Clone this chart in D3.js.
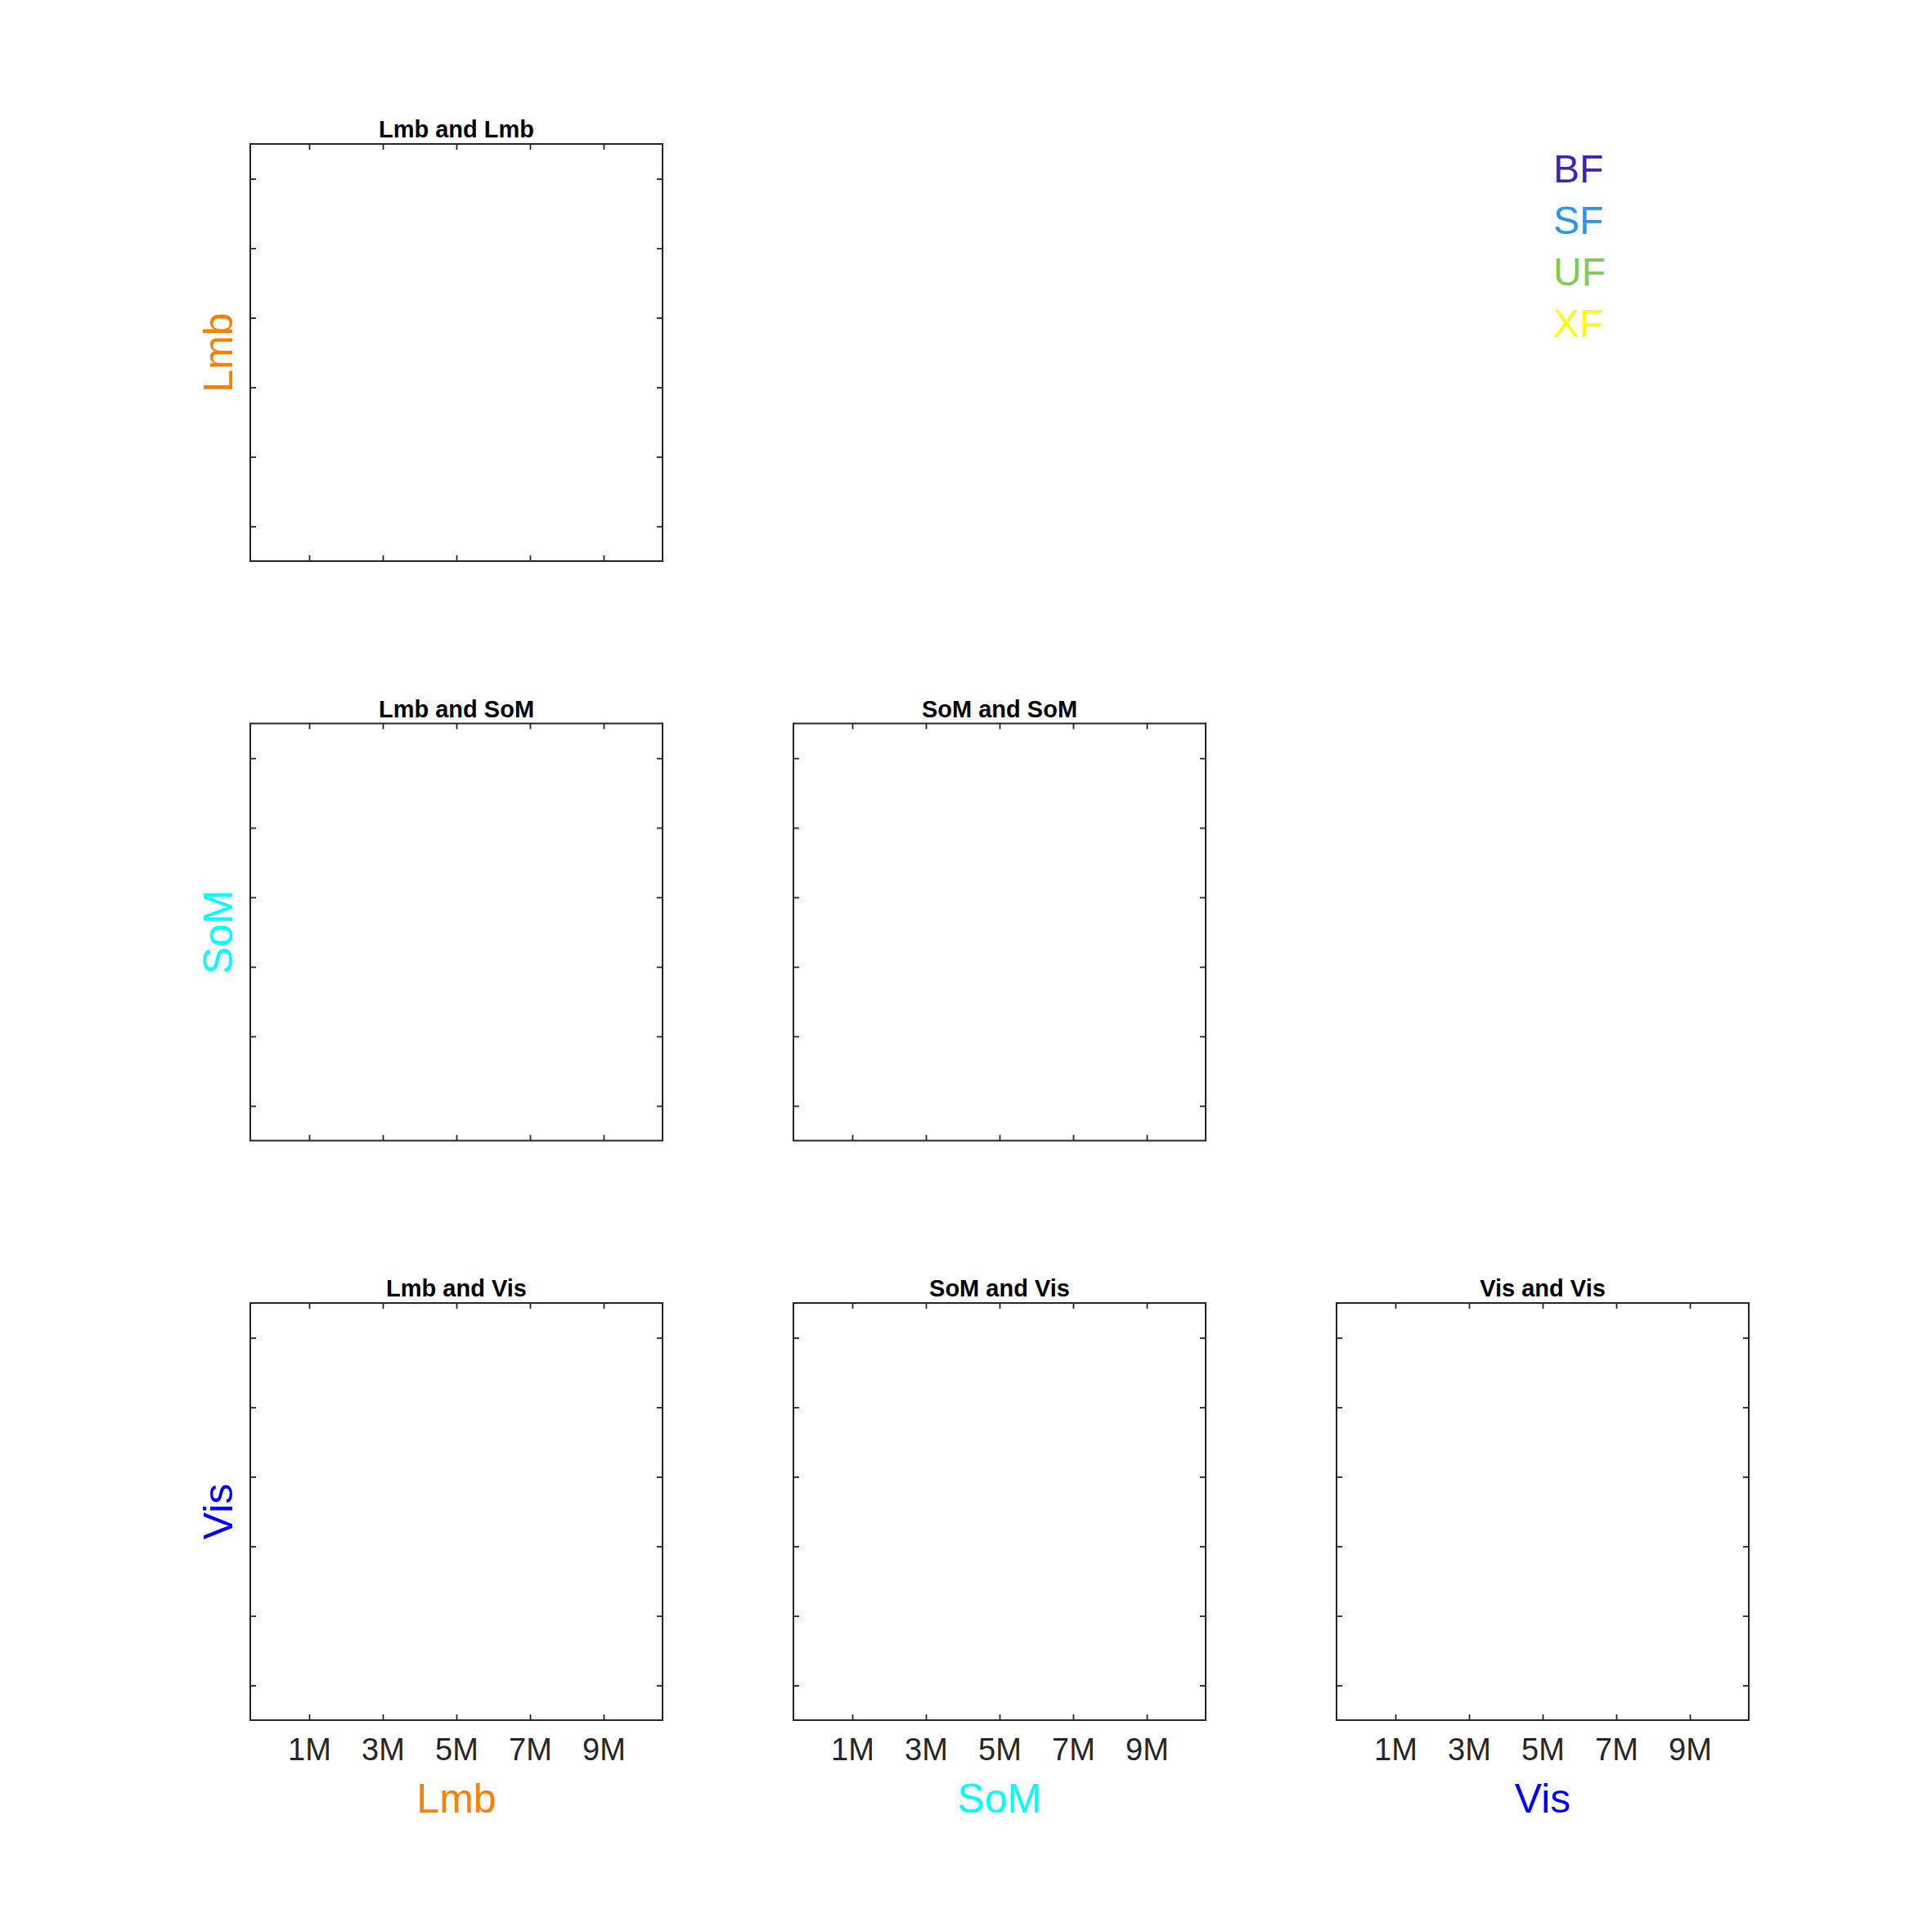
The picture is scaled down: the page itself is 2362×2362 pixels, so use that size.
<!DOCTYPE html>
<html>
<head>
<meta charset="utf-8">
<script src="https://cdn.jsdelivr.net/npm/d3@7"></script>
<style>
  html, body { margin: 0; padding: 0; background: #ffffff; }
  svg { display: block; }
  text { font-family: "Liberation Sans", Arial, Helvetica, sans-serif; }
</style>
</head>
<body>
<script>
// ---- data ----
const variables = ["Lmb", "SoM", "Vis"];
const variableColors = ["#FF8000", "#00FFFF", "#0000FF"];
const groups = ["BF", "SF", "UF", "XF"];
const groupColors = ["#3E26A8", "#2796EB", "#80CA56", "#F9FB15"];
const xDomain = [-0.6e6, 10.6e6];
const yDomain = [0, 12e6];
const xTickValues = [1e6, 3e6, 5e6, 7e6, 9e6];
const yTickValues = [1e6, 3e6, 5e6, 7e6, 9e6, 11e6];
const points = []; // every panel is empty in the reference

// ---- layout ----
const W = 2362, H = 2362;
const panelW = 504, panelH = 510;
const left0 = 306, top0 = 176, colStep = 664, rowStep = 708.5;
const axisColor = "#262626";
const tickLen = 7;

const svg = d3.select("body").append("svg")
  .attr("width", W).attr("height", H)
  .attr("viewBox", `0 0 ${W} ${H}`);

const x = d3.scaleLinear().domain(xDomain).range([0, panelW]);
const y = d3.scaleLinear().domain(yDomain).range([panelH, 0]);
const fmt = d => d3.format("d")(d / 1e6) + "M";

for (let r = 0; r < variables.length; r++) {
  for (let c = 0; c <= r; c++) {
    const g = svg.append("g")
      .attr("transform", `translate(${left0 + c * colStep},${top0 + r * rowStep})`);

    // points (none)
    g.selectAll("circle").data(points).join("circle")
      .attr("cx", d => x(d[0])).attr("cy", d => y(d[1])).attr("r", 3);

    const isBottom = r === variables.length - 1;

    const bx = g.append("g").attr("transform", `translate(0,${panelH})`)
      .call(d3.axisBottom(x).tickValues(xTickValues).tickSize(-tickLen)
        .tickPadding(22).tickFormat(isBottom ? fmt : () => ""));
    const tx = g.append("g")
      .call(d3.axisTop(x).tickValues(xTickValues).tickSize(-tickLen).tickFormat(() => ""));
    const ly = g.append("g")
      .call(d3.axisLeft(y).tickValues(yTickValues).tickSize(-tickLen).tickFormat(() => ""));
    const ry = g.append("g").attr("transform", `translate(${panelW},0)`)
      .call(d3.axisRight(y).tickValues(yTickValues).tickSize(-tickLen).tickFormat(() => ""));

    [bx, tx, ly, ry].forEach(a => {
      a.select(".domain").remove();
      a.selectAll(".tick line").attr("stroke", axisColor).attr("stroke-width", 1.8);
      a.selectAll(".tick text")
        .attr("fill", axisColor)
        .style("font-size", "38px")
        .style("font-family", "'Liberation Sans', Arial, sans-serif");
    });

    g.append("rect")
      .attr("x", 0).attr("y", 0).attr("width", panelW).attr("height", panelH)
      .attr("fill", "none").attr("stroke", axisColor).attr("stroke-width", 2);

    g.append("text")
      .attr("x", panelW / 2).attr("y", -8)
      .attr("text-anchor", "middle")
      .style("font-size", "29px").style("font-weight", "bold")
      .attr("fill", "#000")
      .text(`${variables[c]} and ${variables[r]}`);

    if (isBottom) {
      g.append("text")
        .attr("x", panelW / 2).attr("y", panelH + 113)
        .attr("text-anchor", "middle")
        .style("font-size", "50px")
        .attr("fill", variableColors[c])
        .text(variables[c]);
    }
    if (c === 0) {
      g.append("text")
        .attr("transform", `translate(-22,${panelH / 2}) rotate(-90)`)
        .attr("text-anchor", "middle")
        .style("font-size", "50px")
        .attr("fill", variableColors[r])
        .text(variables[r]);
    }
  }
}

// legend
const legend = svg.append("g").attr("transform", "translate(1899,0)");
legend.selectAll("text").data(groups).join("text")
  .attr("x", 0)
  .attr("y", (d, i) => 223 + i * 63)
  .style("font-size", "48px")
  .attr("fill", (d, i) => groupColors[i])
  .text(d => d);
</script>
</body>
</html>
